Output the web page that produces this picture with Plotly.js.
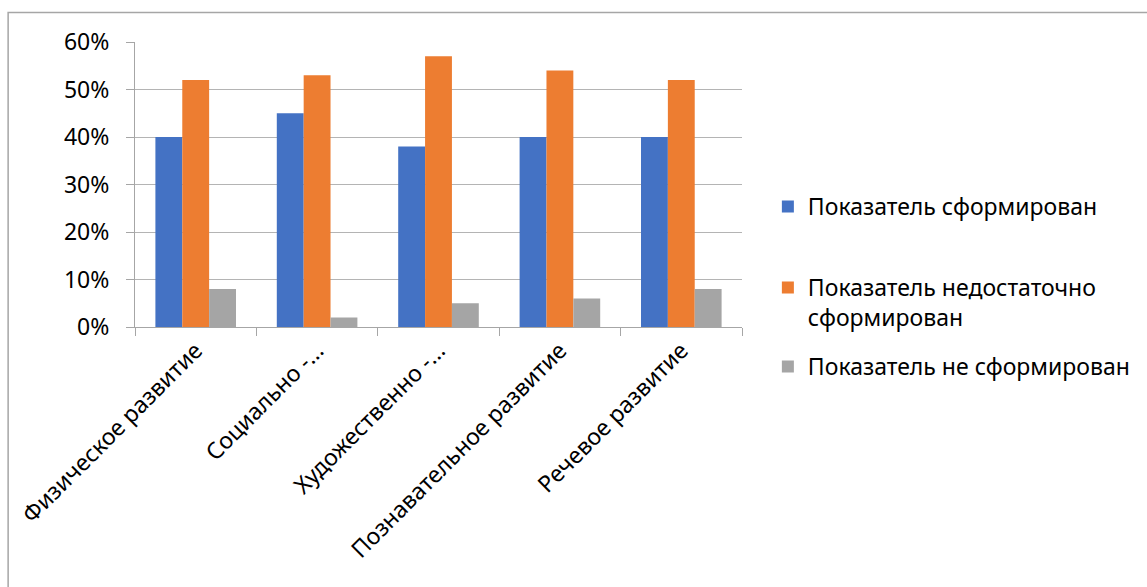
<!DOCTYPE html>
<html>
<head>
<meta charset="utf-8">
<script src="https://cdn.plot.ly/plotly-3.0.1.min.js"></script>
<style>html,body{margin:0;padding:0;background:#fff;}#chart{width:1147px;height:587px;}</style>
</head>
<body>
<div id="chart"></div>
<script>
const categories = ["Физическое развитие", "Социально -...", "Художественно -...", "Познавательное развитие", "Речевое развитие"];
const seriesNames = ["Показатель сформирован", "Показатель недостаточно<br>сформирован", "Показатель не сформирован"];
const formed = [0.40, 0.45, 0.38, 0.40, 0.40];
const insufficient = [0.52, 0.53, 0.57, 0.54, 0.52];
const notFormed = [0.08, 0.02, 0.05, 0.06, 0.08];
const colors = ["#4472C4", "#ED7D31", "#A5A5A5"];

const W = 1147, H = 587;
const L = 135, R = 745, T = 42, B = 327;
const px = x => (x - L) / (R - L);
const py = y => (B - y) / (B - T);
const FONT = "Noto Sans, sans-serif";
const FS = 23;

const series = [formed, insufficient, notFormed];
const legendKeys = ["legend", "legend2", "legend3"];
const legendY = [207, 288, 367];
const traces = series.map((vals, i) => ({
  type: "bar",
  x: categories,
  y: vals,
  name: seriesNames[i],
  marker: {color: colors[i]},
  legend: legendKeys[i],
  hoverinfo: "skip"
}));

const legendBase = (yPix) => ({
  x: px(771), y: py(yPix - 22), xanchor: "left", yanchor: "top",
  font: {family: FONT, size: FS, color: "#000"},
  bgcolor: "rgba(0,0,0,0)", valign: "top",
  itemwidth: 30, tracegroupgap: 0
});

const layout = {
  width: W, height: H,
  margin: {l: L, r: W - R, t: T, b: H - B, pad: 0},
  paper_bgcolor: "#fff", plot_bgcolor: "#fff",
  barmode: "group", bargap: 0.336, bargroupgap: 0,
  showlegend: true,
  legend: legendBase(legendY[0]),
  legend2: legendBase(legendY[1]),
  legend3: legendBase(legendY[2]),
  font: {family: FONT, size: FS, color: "#000"},
  xaxis: {
    tickangle: -45, tickson: "boundaries", ticks: "outside", ticklen: 8,
    tickcolor: "#a6a6a6", showline: true, linecolor: "#a6a6a6", linewidth: 1,
    showgrid: false, tickfont: {family: FONT, size: FS, color: "#000"},
    automargin: false
  },
  yaxis: {
    range: [0, 0.6], dtick: 0.1, tickformat: ".0%", ticks: "outside", ticklen: 8,
    tickcolor: "#a6a6a6", showline: true, linecolor: "#a6a6a6", gridcolor: "#b4b4b4",
    gridwidth: 1, zeroline: false, ticklabelstandoff: 12,
    tickfont: {family: FONT, size: FS, color: "#000"}, automargin: false
  },
  shapes: [{
    type: "rect", xref: "paper", yref: "paper",
    x0: px(7.5), x1: px(1160), y0: py(600), y1: py(12.5),
    line: {color: "#a6a6a6", width: 1.5}, fillcolor: "rgba(0,0,0,0)", layer: "below"
  }]
};

Plotly.newPlot("chart", traces, layout, {staticPlot: true, displayModeBar: false});
</script>
</body>
</html>
